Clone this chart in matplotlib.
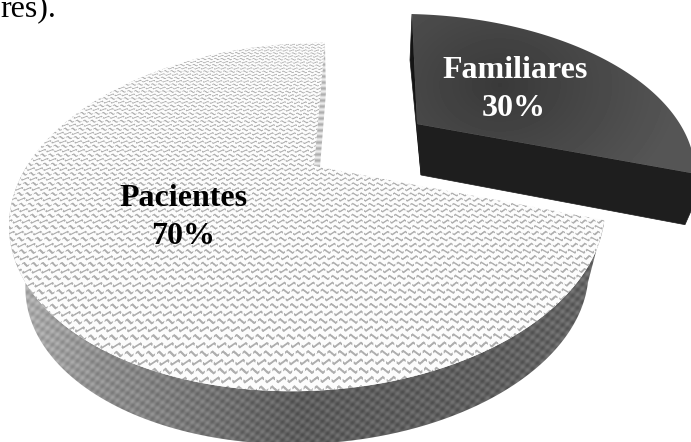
import numpy as np
import matplotlib
matplotlib.use('Agg')
from matplotlib import pyplot as plt
from matplotlib.patches import Polygon

plt.rcParams['font.family'] = ['Liberation Serif', 'DejaVu Serif']

# share of each group, in percent
labels = ['Pacientes', 'Familiares']
shares = [70, 30]
caption = 'res).'

W, H = 691, 442
split = 360 * shares[1] / 100   # Familiares runs clockwise from 12 o'clock


def perspective(center, a, b, tilt, apex, rim_start):
    # circle -> screen: ellipse through an affine map, with a boost moving the
    # disc centre onto the slice apex and a turn that puts 0 deg on rim_start
    A = np.array([[a, 0, center[0]], [-tilt * a, -b, center[1]], [0, 0, 1.0]])
    Ai = np.linalg.inv(A)
    c = (Ai @ np.array([apex[0], apex[1], 1.0]))[:2]
    g = 1 / np.sqrt(1 - c @ c)
    n = c / np.linalg.norm(c)
    L = np.eye(3)
    L[:2, :2] += (g - 1) * np.outer(n, n)
    L[:2, 2] = g * c
    L[2, :2] = g * c
    L[2, 2] = g
    q = np.linalg.inv(L) @ Ai @ np.array([rim_start[0], rim_start[1], 1.0])
    t = np.arctan2(q[0], q[1])
    R = np.array([[np.cos(t), np.sin(t), 0], [-np.sin(t), np.cos(t), 0], [0, 0, 1.0]])
    return A @ L @ R


def disc(deg):
    t = np.radians(deg)
    return np.sin(t), np.cos(t)


def project(M, u, v):
    w = M[2, 0] * u + M[2, 1] * v + M[2, 2]
    return (M[0, 0] * u + M[0, 1] * v + M[0, 2]) / w, (M[1, 0] * u + M[1, 1] * v + M[1, 2]) / w


def arc(M, a, b, n=200):
    xs, ys = project(M, *disc(np.linspace(a, b, n)))
    return np.column_stack([xs, ys])


def pixels(scale=3):
    xs = (np.arange(W * scale) + 0.5) / scale
    ys = (np.arange(H * scale) + 0.5) / scale
    return np.meshgrid(xs, ys)


def shrink(a, scale=3):
    return a.reshape(H, scale, W, scale).mean(axis=(1, 3))


def tri(t):
    return 2 * np.abs(t - np.floor(t + 0.5))


def show(img, patch, ax):
    ax.add_patch(patch)
    im = ax.imshow(img, cmap='gray', vmin=0, vmax=1, extent=(0, W, H, 0),
                   interpolation='nearest', aspect='auto', zorder=patch.get_zorder())
    im.set_clip_path(patch)


def plain(pts, zorder):
    return Polygon(pts, closed=True, fc='none', ec='none', zorder=zorder)


fig = plt.figure(figsize=(W / 100, H / 100), dpi=100)
ax = fig.add_axes([0, 0, 1, 1])

X, Y = pixels()

# big slice
apex = np.array([314.0, 166.0])
mid = np.array([307.0, 217.0])
M_big = perspective(mid, 298, 174, 0.03, apex, (325, 42))
top_big = arc(M_big, split, 360)


def lower(p):
    # floor of the slice: slightly smaller and pushed down
    return (p - mid) * 0.945 + mid + (0, 62.5)


front = arc(M_big, split, 270)
side_big = np.vstack([front, lower(front)[::-1]])
side_img = np.interp(X, [20, 100, 300, 500, 600], [0.68, 0.56, 0.37, 0.38, 0.40])
side_img = side_img + 0.075 * np.sin(2 * np.pi * X / 10) * np.sin(2 * np.pi * (Y + 0.25 * X) / 9)
show(shrink(np.clip(side_img, 0, 1)), plain(side_big, 1), ax)

# inner wall behind the big slice
p0 = top_big[-1]
wall = [p0, p0 + (1, 50), apex + (6, 1), apex]
wall_img = 0.80 + 0.12 * np.sin(2 * np.pi * Y / 6)
show(shrink(wall_img), plain(wall, 1), ax)

# zigzag texture on the top face, laid out on the disc so it follows the perspective
U, V = project(np.linalg.inv(M_big), X, Y)
row = V * 34 + 0.5 * tri(U * 36)
line = np.abs(row - np.floor(row) - 0.5)
gaps = np.sin(2 * np.pi * (U * 36 + np.floor(row) * 0.5)) > -0.88
tex = np.where((line < 0.15) & gaps, 0.68, 0.985)
show(shrink(np.clip(tex, 0, 1)), plain(np.vstack([[apex], top_big]), 2), ax)

# small slice, pulled out of the pie
apex2 = np.array([417.0, 124.0])
M_small = perspective((410, 168), 285, 154, -0.02, apex2, (412, 14))
top_small = arc(M_small, 0, split)
p_start, p_end = top_small[0], top_small[-1]

wall2 = [p_start, p_start + (-2, 46), apex2 + (4, 51), apex2]
ax.add_patch(Polygon(wall2, closed=True, fc='#141414', ec='#141414', lw=0.5, zorder=3))
side2 = [apex2, p_end, p_end + (1, 26), p_end + (-10, 51), apex2 + (4, 51)]
ax.add_patch(Polygon(side2, closed=True, fc='#1e1e1e', ec='#1e1e1e', lw=0.5, zorder=3))

glow = np.hypot((X - 500) / 1.3, Y - 85)
shade = np.interp(glow, [0, 140], [0.225, 0.335])
show(shrink(shade), plain(np.vstack([[apex2], top_small]), 4), ax)

# labels
text_style = dict(fontsize=23, fontweight='bold', ha='center', va='center', zorder=6)
ax.text(184, 199, labels[0], color='black', **text_style)
ax.text(183, 237, f'{shares[0]}%', color='black', **text_style)
ax.text(515, 70, labels[1], color='white', **text_style)
ax.text(514, 108, f'{shares[1]}%', color='white', **text_style)
ax.text(0, 16, caption, color='black', fontsize=23, ha='left', va='baseline', zorder=6)

ax.set_xlim(0, W)
ax.set_ylim(H, 0)
ax.axis('off')

fig.savefig('out.png', dpi=100)
